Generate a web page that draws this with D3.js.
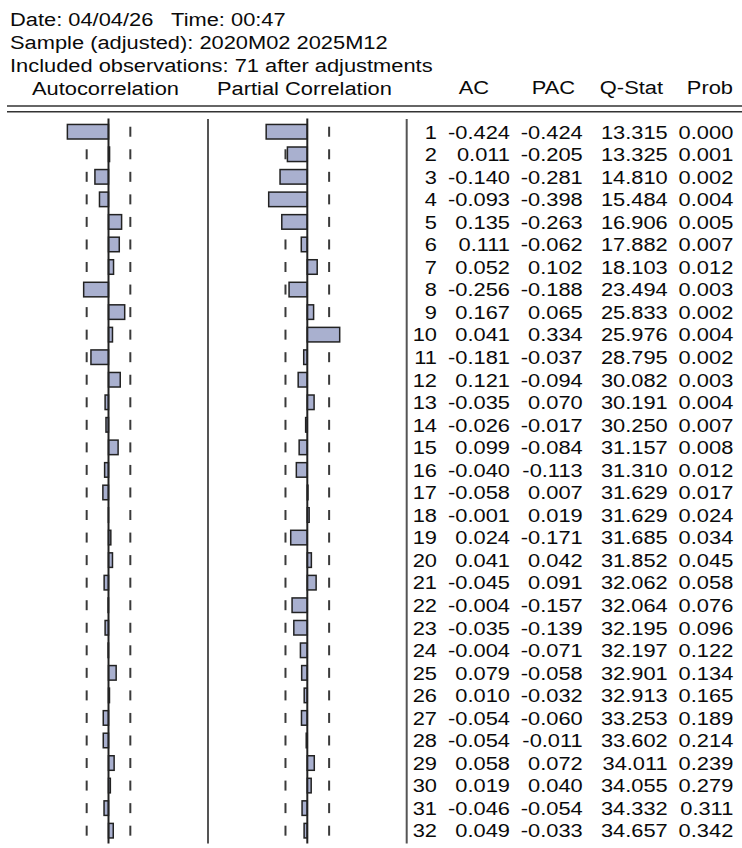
<!DOCTYPE html>
<html>
<head>
<meta charset="utf-8">
<script src="https://cdn.jsdelivr.net/npm/d3@7"></script>
<style>
  html, body { margin: 0; padding: 0; background: #fff; }
  svg text { font-family: "Liberation Sans", Arial, sans-serif; fill: #0a0a0a; white-space: pre; }
</style>
</head>
<body>
<svg id="chart" width="742" height="848"></svg>
<script>
const headerLines = [
  "Date: 04/04/26   Time: 00:47",
  "Sample (adjusted): 2020M02 2025M12",
  "Included observations: 71 after adjustments"
];
const columnHeaders = ["AC", "PAC", "Q-Stat", "Prob"];
const lags = d3.range(1, 33);
const acValues = [-0.424, 0.011, -0.140, -0.093, 0.135, 0.111, 0.052, -0.256, 0.167, 0.041,
  -0.181, 0.121, -0.035, -0.026, 0.099, -0.040, -0.058, -0.001, 0.024, 0.041,
  -0.045, -0.004, -0.035, -0.004, 0.079, 0.010, -0.054, -0.054, 0.058, 0.019, -0.046, 0.049];
const pacValues = [-0.424, -0.205, -0.281, -0.398, -0.263, -0.062, 0.102, -0.188, 0.065, 0.334,
  -0.037, -0.094, 0.070, -0.017, -0.084, -0.113, 0.007, 0.019, -0.171, 0.042,
  0.091, -0.157, -0.139, -0.071, -0.058, -0.032, -0.060, -0.011, 0.072, 0.040, -0.054, -0.033];
const qStat = [13.315, 13.325, 14.810, 15.484, 16.906, 17.882, 18.103, 23.494, 25.833, 25.976,
  28.795, 30.082, 30.191, 30.250, 31.157, 31.310, 31.629, 31.629, 31.685, 31.852,
  32.062, 32.064, 32.195, 32.197, 32.901, 32.913, 33.253, 33.602, 34.011, 34.055, 34.332, 34.657];
const probValues = [0.000, 0.001, 0.002, 0.004, 0.005, 0.007, 0.012, 0.003, 0.002, 0.004,
  0.002, 0.003, 0.004, 0.007, 0.008, 0.012, 0.017, 0.024, 0.034, 0.045,
  0.058, 0.076, 0.096, 0.122, 0.134, 0.165, 0.189, 0.214, 0.239, 0.279, 0.311, 0.342];
const bandLimit = 0.225;

const svg = d3.select("#chart");
const FS = 19, SX = 1.15;
function txt(g, x, y, s, anchor) {
  return g.append("text")
    .attr("transform", `translate(${x},${y}) scale(${SX},1)`)
    .attr("text-anchor", anchor || "start")
    .attr("font-size", FS)
    .text(s);
}

// header
headerLines.forEach((s, i) => txt(svg, 10, 26 + i * 23, s));
txt(svg, 32, 95, "Autocorrelation");
txt(svg, 217, 95, "Partial Correlation");
const headRight = [489, 575, 663, 733];
columnHeaders.forEach((h, i) => txt(svg, headRight[i], 94, h, "end"));

// double rule
[106, 111.7].forEach(yy => svg.append("line")
  .attr("x1", 7).attr("x2", 742).attr("y1", yy).attr("y2", yy)
  .attr("stroke", "#333").attr("stroke-width", 1.5));

// scales
const y = d3.scaleBand().domain(lags).range([120.4, 120.4 + 32 * 22.55]).paddingInner(0.355).paddingOuter(0.18);
const rowC = d => y(d) + y.bandwidth() / 2;
const xAC = d3.scaleLinear().domain([-1, 1]).range([11.5, 205.5]);
const xPAC = d3.scaleLinear().domain([-1, 1]).range([210.3, 404.3]);

const lineTop = 118.5, lineBottom = 843.5;

function panel(xs, vals) {
  const g = svg.append("g");
  lags.forEach(l => {
    [-bandLimit, bandLimit].forEach(b => {
      g.append("line")
        .attr("x1", xs(b)).attr("x2", xs(b))
        .attr("y1", rowC(l) - 5).attr("y2", rowC(l) + 5)
        .attr("stroke", "#3a3a3a").attr("stroke-width", 2);
    });
  });
  g.selectAll("rect.bar").data(vals).join("rect")
    .attr("class", "bar")
    .attr("x", d => Math.min(xs(0), xs(d)))
    .attr("width", d => Math.abs(xs(d) - xs(0)))
    .attr("y", (d, i) => y(lags[i]))
    .attr("height", y.bandwidth())
    .attr("fill", "#a9b0cf")
    .attr("stroke", "#222")
    .attr("stroke-width", 1.5);
  g.append("line")
    .attr("x1", xs(0)).attr("x2", xs(0))
    .attr("y1", lineTop).attr("y2", lineBottom)
    .attr("stroke", "#222").attr("stroke-width", 2);
}
panel(xAC, acValues);
panel(xPAC, pacValues);

// separators
[208, 406.7].forEach(x => svg.append("line")
  .attr("x1", x).attr("x2", x).attr("y1", 119).attr("y2", 843.5)
  .attr("stroke", "#555").attr("stroke-width", 2));

// table
const tg = svg.append("g");
lags.forEach((l, i) => {
  const by = rowC(l) + 6.8;
  txt(tg, 437, by, String(l), "end");
  txt(tg, 510, by, acValues[i].toFixed(3), "end");
  txt(tg, 582.7, by, pacValues[i].toFixed(3), "end");
  txt(tg, 667.7, by, qStat[i].toFixed(3), "end");
  txt(tg, 733.3, by, probValues[i].toFixed(3), "end");
});
</script>
</body>
</html>
